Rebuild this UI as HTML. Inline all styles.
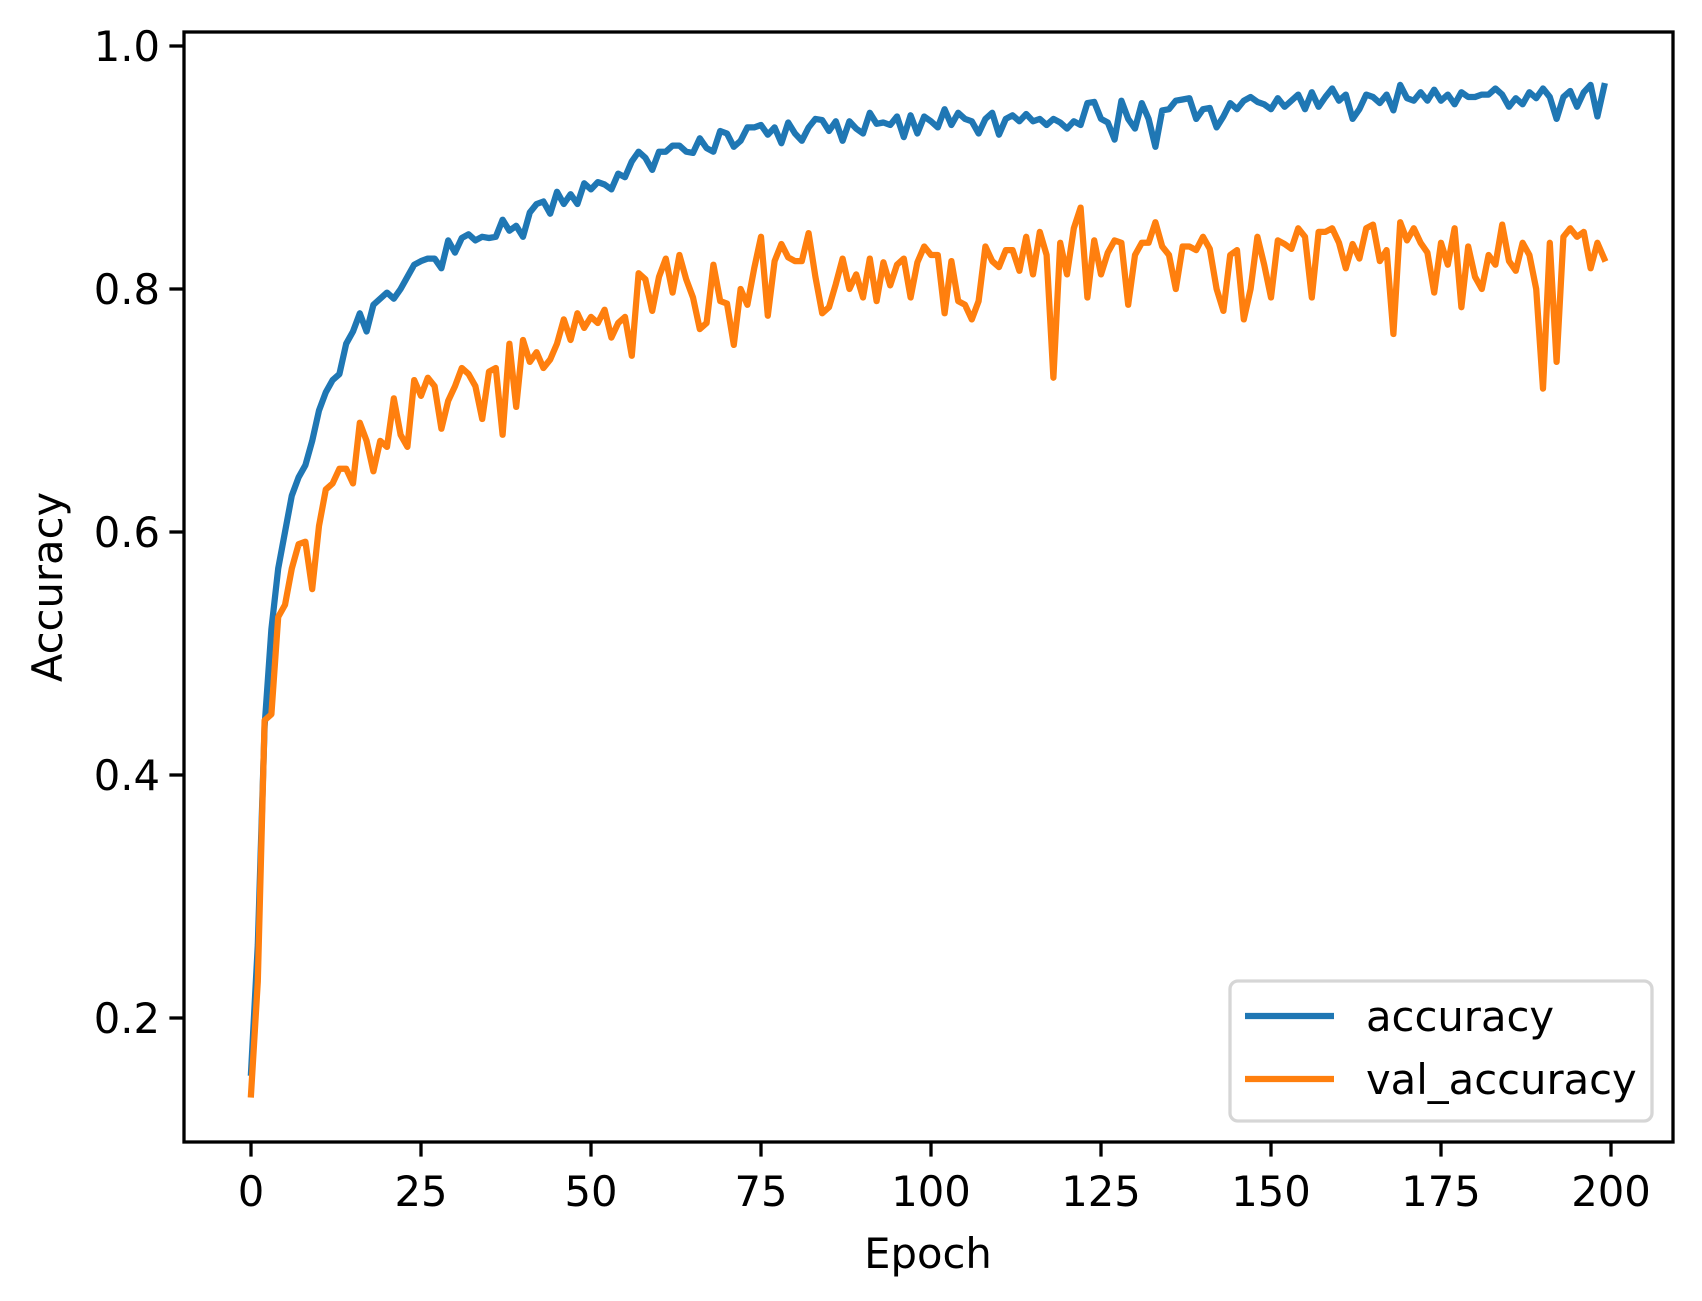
<!DOCTYPE html>
<html><head><meta charset="utf-8"><style>
html,body{margin:0;padding:0;background:#fff;}
svg{display:block;font-family:"DejaVu Sans","Liberation Sans",sans-serif;}
</style></head>
<body>
<svg id="chart" width="1702" height="1301" viewBox="0 0 1702 1301" xmlns="http://www.w3.org/2000/svg">
<rect width="1702" height="1301" fill="#fff"/>
<g id="lines"></g>
<g id="axes"></g>
<g>
<rect x="1230" y="981" width="422" height="140" rx="8" fill="#fff" fill-opacity="0.8" stroke="#d6d6d6" stroke-width="3.3"/>
<line x1="1245" y1="1016" x2="1334" y2="1016" stroke="#1f77b4" stroke-width="6.25"/>
<text x="1366" y="1031" font-size="41.7">accuracy</text>
<line x1="1245" y1="1079" x2="1334" y2="1079" stroke="#ff7f0e" stroke-width="6.25"/>
<text x="1366" y="1094" font-size="41.7">val_accuracy</text>
</g>
<text x="928" y="1268" font-size="41.7" text-anchor="middle">Epoch</text>
<text transform="translate(62,587) rotate(-90)" font-size="41.7" text-anchor="middle">Accuracy</text>
</svg>
<script>
const accuracy=[0.155,0.26,0.44,0.52,0.57,0.60,0.63,0.645,0.655,0.675,0.70,0.715,0.725,0.73,0.755,0.765,0.78,0.765,0.787,0.792,
0.797,0.792,0.80,0.81,0.82,0.823,0.825,0.825,0.817,0.84,0.83,0.842,0.845,0.84,0.843,0.842,0.843,0.857,0.848,0.852,
0.843,0.863,0.87,0.872,0.862,0.88,0.87,0.878,0.87,0.887,0.882,0.888,0.886,0.882,0.895,0.892,0.905,0.913,0.908,0.898,
0.913,0.913,0.918,0.918,0.913,0.912,0.924,0.916,0.913,0.93,0.928,0.917,0.922,0.933,0.933,0.935,0.927,0.933,0.92,0.937,
0.928,0.922,0.933,0.94,0.939,0.93,0.938,0.922,0.938,0.932,0.928,0.945,0.936,0.937,0.935,0.942,0.925,0.943,0.928,0.942,
0.938,0.933,0.948,0.935,0.945,0.94,0.938,0.928,0.94,0.945,0.927,0.94,0.943,0.938,0.944,0.938,0.94,0.935,0.94,0.937,
0.932,0.938,0.935,0.953,0.954,0.94,0.937,0.923,0.955,0.94,0.932,0.953,0.94,0.917,0.947,0.948,0.955,0.956,0.957,0.94,
0.948,0.949,0.933,0.942,0.953,0.948,0.955,0.958,0.954,0.952,0.948,0.957,0.95,0.955,0.96,0.948,0.962,0.95,0.958,0.965,
0.955,0.96,0.94,0.948,0.96,0.958,0.953,0.96,0.947,0.968,0.957,0.955,0.962,0.955,0.964,0.955,0.96,0.952,0.962,0.958,
0.958,0.96,0.96,0.965,0.96,0.95,0.957,0.952,0.962,0.957,0.965,0.958,0.94,0.958,0.963,0.95,0.962,0.968,0.942,0.967];
const valAccuracy=[0.137,0.23,0.445,0.45,0.53,0.54,0.57,0.59,0.592,0.553,0.605,0.635,0.64,0.652,0.652,0.64,0.69,0.675,0.65,0.675,
0.67,0.71,0.68,0.67,0.725,0.712,0.727,0.72,0.685,0.708,0.72,0.735,0.73,0.72,0.693,0.732,0.735,0.68,0.755,0.703,
0.758,0.74,0.748,0.735,0.742,0.755,0.775,0.758,0.78,0.768,0.777,0.772,0.783,0.76,0.772,0.777,0.745,0.813,0.808,0.782,
0.81,0.825,0.797,0.828,0.808,0.793,0.767,0.772,0.82,0.79,0.788,0.754,0.8,0.787,0.817,0.843,0.778,0.823,0.837,0.826,
0.823,0.823,0.846,0.81,0.78,0.785,0.804,0.825,0.8,0.812,0.793,0.825,0.79,0.822,0.803,0.82,0.825,0.793,0.822,0.835,
0.828,0.828,0.78,0.823,0.79,0.787,0.775,0.79,0.835,0.823,0.818,0.832,0.832,0.815,0.843,0.812,0.847,0.828,0.727,0.838,
0.812,0.85,0.867,0.793,0.84,0.812,0.83,0.84,0.838,0.787,0.828,0.838,0.838,0.855,0.835,0.828,0.8,0.835,0.835,0.832,
0.843,0.833,0.8,0.782,0.828,0.832,0.775,0.8,0.843,0.82,0.793,0.84,0.837,0.833,0.85,0.843,0.793,0.847,0.847,0.85,
0.838,0.817,0.837,0.825,0.85,0.853,0.823,0.832,0.763,0.855,0.84,0.85,0.838,0.83,0.797,0.838,0.82,0.85,0.785,0.835,
0.81,0.8,0.828,0.82,0.853,0.823,0.815,0.838,0.828,0.8,0.718,0.838,0.74,0.843,0.85,0.843,0.847,0.817,0.838,0.825];
const xTicks=[0,25,50,75,100,125,150,175,200];
const yTicks=[0.2,0.4,0.6,0.8,1.0];
const yTickLabels=["0.2","0.4","0.6","0.8","1.0"];

const NS="http://www.w3.org/2000/svg";
const L=184,R=1673,T=32,B=1142;
function xs(e){return 251+6.8*e;}
function ys(v){return 46+(1-v)*1215;}
function mk(tag,attrs,parent){const el=document.createElementNS(NS,tag);for(const k in attrs)el.setAttribute(k,attrs[k]);parent.appendChild(el);return el;}
const lines=document.getElementById('lines');
function series(arr,color,name){
  const d=arr.map((v,i)=>(i?'L':'M')+xs(i).toFixed(1)+','+ys(v).toFixed(1)).join(' ');
  const p=mk('path',{d:d,fill:'none',stroke:color,'stroke-width':6.25,'stroke-linejoin':'round','stroke-linecap':'square'},lines);
  
  
}
series(accuracy,'#1f77b4','accuracy-line');
series(valAccuracy,'#ff7f0e','val-accuracy-line');
const axes=document.getElementById('axes');
const frame=mk('rect',{x:L,y:T,width:R-L,height:B-T,fill:'none',stroke:'#000','stroke-width':3.3,'stroke-linejoin':'miter'},axes);


xTicks.forEach(t=>{
  const x=xs(t);
  const tk=mk('line',{x1:x,y1:B,x2:x,y2:B+14.6,stroke:'#000','stroke-width':3.3},axes);
  
  
  const lb=mk('text',{x:x,y:B+64,'font-size':41.7,'text-anchor':'middle'},axes);
  lb.textContent=String(t);
  
  
});
yTicks.forEach((t,i)=>{
  const y=ys(t);
  const tk=mk('line',{x1:L-14.6,y1:y,x2:L,y2:y,stroke:'#000','stroke-width':3.3},axes);
  
  
  const lb=mk('text',{x:L-24,y:y+15,'font-size':41.7,'text-anchor':'end'},axes);
  lb.textContent=yTickLabels[i];
  
  
});
</script>
</body></html>
